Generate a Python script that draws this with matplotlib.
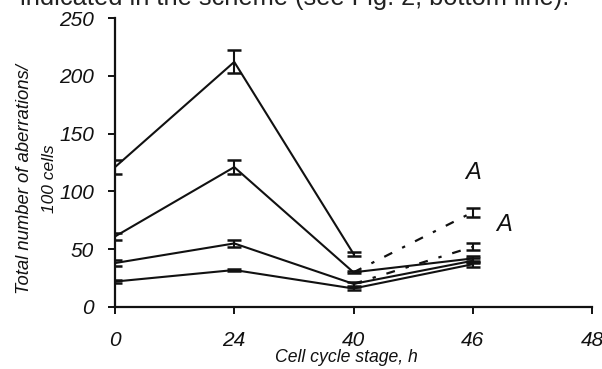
import matplotlib.pyplot as plt

# data
stages = ['0', '24', '40', '46', '48']
# solid lines: aberrations per 100 cells at 0, 24, 40, 46 h
line1 = [121, 212, 46]
err1 = [6, 10, 1.5]
line2 = [61, 121, 30, 42]
err2 = [3, 6, 1, 2]
line3 = [38, 55, 20, 40]
err3 = [2.5, 3, 2, 2]
line4 = [22, 32, 16, 37]
err4 = [1, 1, 1.5, 2]
# dotted "A" branches from 40 h to 46 h
dotA_upper = [30, 82]
errA_upper = [1, 4]
dotA_lower = [20, 52]
errA_lower = [2, 3]

cond = ['Liberation Sans Narrow', 'Liberation Sans', 'DejaVu Sans']
ink = '#111111'

fig = plt.figure(figsize=(6.02, 3.69), dpi=100)
ax = fig.add_axes([115 / 602, 62 / 369, 477 / 602, 289 / 369])

x_all = list(range(len(stages)))

for vals, errs in [(line1, err1), (line2, err2), (line3, err3), (line4, err4)]:
    ax.errorbar(x_all[:len(vals)], vals, yerr=errs, color=ink, lw=1.5,
                capsize=5, capthick=1.8, elinewidth=1.5)

for vals, errs in [(dotA_upper, errA_upper), (dotA_lower, errA_lower)]:
    xs = x_all[2:4]
    ax.plot(xs, vals, color=ink, lw=1.6, linestyle=(0, (4, 5, 1.5, 5)))
    ax.errorbar(xs[1:], vals[1:], yerr=errs[1:], color=ink, fmt='none',
                capsize=5, capthick=1.8, elinewidth=1.5)

ax.text(2.94, 111, 'A', family=cond, style='italic', fontsize=17, color=ink)
ax.text(3.2, 66, 'A', family=cond, style='italic', fontsize=17, color=ink)

ax.set_xlim(0, 4)
ax.set_ylim(0, 250)
ax.set_xticks(x_all)
ax.set_xticklabels(stages)
ax.set_yticks([0, 50, 100, 150, 200, 250])
for s in ['top', 'right']:
    ax.spines[s].set_visible(False)
for s in ['left', 'bottom']:
    ax.spines[s].set_linewidth(1.6)
    ax.spines[s].set_color(ink)
ax.tick_params(direction='out', length=5, width=1.4, color=ink)
for lab in ax.get_xticklabels() + ax.get_yticklabels():
    lab.set_family(cond)
    lab.set_style('italic')
    lab.set_fontsize(15)
    lab.set_color(ink)
ax.tick_params(axis='x', pad=12)
ax.tick_params(axis='y', pad=10)

fig.text(346 / 602, 1 - 358 / 369, 'Cell cycle stage, h', family=cond, style='italic',
         fontsize=12.7, ha='center', va='center', color=ink)
fig.text(25 / 602, 1 - 179 / 369, 'Total number of aberrations/', family=cond,
         style='italic', fontsize=13.3, rotation=90, ha='center', va='center', color=ink)
fig.text(50 / 602, 1 - 179 / 369, '100 cells', family=cond, style='italic',
         fontsize=12.5, rotation=90, ha='center', va='center', color=ink)

# cropped line of body text at the top of the page
fig.text(20 / 602, 1 - 5 / 369, 'indicated in the scheme (see Fig. 2, bottom line).',
         family=['Liberation Sans', 'DejaVu Sans'], fontsize=18.3, va='baseline',
         color='#222222')

fig.savefig('out.png', dpi=100)
